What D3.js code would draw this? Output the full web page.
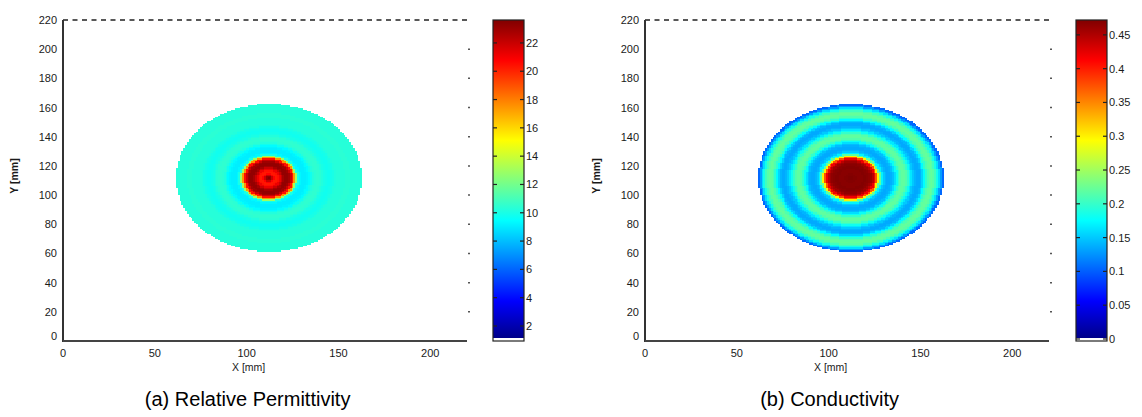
<!DOCTYPE html>
<html>
<head>
<meta charset="utf-8">
<script src="https://cdn.jsdelivr.net/npm/d3@7"></script>
<style>
  body { margin: 0; background: #fff; }
  svg { display: block; font-family: "Liberation Sans", Arial, sans-serif; }
  .tick-label { font-size: 11px; fill: #1a1a1a; }
</style>
</head>
<body>
<div id="container"></div>
<script>
var w = 1142;
var h = 417;

// axis ticks (mm)
var xTicks = [0, 50, 100, 150, 200];
var yTicks = [0, 20, 40, 60, 80, 100, 120, 140, 160, 180, 200, 220];

// disc geometry (mm)
var discCenter = [112, 112];
var discRadius = 50;

// radial profiles, one value per mm of radius (0..50)
var permProfile = [
  23.6, 23.2, 22.0, 20.8, 20.3, 20.5, 21.2, 22.0, 22.8, 23.2,
  23.2, 22.9, 22.0, 20.5, 17.5, 13.0, 10.0, 9.3, 9.1, 9.1,
  9.1, 9.2, 9.4, 9.8, 10.2, 10.4, 10.5, 10.5, 10.4, 10.2,
  10.0, 9.9, 9.8, 9.8, 9.9, 10.0, 10.2, 10.3, 10.3, 10.3,
  10.3, 10.3, 10.4, 10.4, 10.4, 10.3, 10.3, 10.3, 10.3, 10.3,
  10.3
];
var condProfile = [
  0.472, 0.472, 0.470, 0.470, 0.468, 0.468, 0.468, 0.470, 0.470, 0.468,
  0.465, 0.458, 0.445, 0.420, 0.375, 0.300, 0.220, 0.170, 0.150, 0.140,
  0.135, 0.135, 0.138, 0.145, 0.160, 0.180, 0.200, 0.214, 0.220, 0.220,
  0.214, 0.200, 0.182, 0.165, 0.150, 0.140, 0.135, 0.135, 0.140, 0.155,
  0.175, 0.197, 0.212, 0.220, 0.222, 0.217, 0.205, 0.185, 0.160, 0.130,
  0.105
];

// colorbar ticks and ranges
var permTicks = [2, 4, 6, 8, 10, 12, 14, 16, 18, 20, 22];
var permRange = [0.94, 23.62];
var condTicks = [0, 0.05, 0.1, 0.15, 0.2, 0.25, 0.3, 0.35, 0.4, 0.45];
var condRange = [-0.003, 0.472];

var captions = ["(a) Relative Permittivity", "(b) Conductivity"];

// jet colormap
var jetStops = [0, 0.125, 0.375, 0.625, 0.875, 1];
var jetColors = ["#000080", "#0000ff", "#00ffff", "#ffff00", "#ff0000", "#800000"];
var jet = d3.scaleLinear().domain(jetStops).range(jetColors).clamp(true);

var svg = d3.select("div#container")
    .append("svg")
    .attr("width", w)
    .attr("height", h)
    .attr("viewBox", "0 0 " + w + " " + h);

var defs = svg.append("defs");

var panels = [
  {left: 63, right: 467, cbLeft: 493, profile: permProfile, range: permRange, ticks: permTicks, fmt: d3.format("d"), caption: captions[0], id: "g0"},
  {left: 645, right: 1049, cbLeft: 1076, profile: condProfile, range: condRange, ticks: condTicks, fmt: d => String(d), caption: captions[1], id: "g1"}
];

var plotTop = 20, plotBottom = 341;

panels.forEach(function(p) {
  var x = d3.scaleLinear().domain([0, 220]).range([p.left, p.right]);
  var y = d3.scaleLinear().domain([0, 220]).range([plotBottom, plotTop]);
  var c = d3.scaleLinear().domain(p.range).range([0, 1]);

  // cells of the disc
  var cells = [];
  for (var i = discCenter[0] - discRadius; i <= discCenter[0] + discRadius; i++) {
    for (var j = discCenter[1] - discRadius; j <= discCenter[1] + discRadius; j++) {
      var r = Math.hypot(i - discCenter[0], j - discCenter[1]);
      if (r <= discRadius + 0.4) {
        cells.push({i: i, j: j, v: p.profile[Math.min(discRadius, Math.round(r))]});
      }
    }
  }
  var cw = x(1) - x(0), ch = y(0) - y(1);
  svg.append("g")
    .attr("shape-rendering", "crispEdges")
    .selectAll("rect")
    .data(cells)
    .enter()
    .append("rect")
    .attr("x", d => x(d.i - 0.5))
    .attr("y", d => y(d.j + 0.5))
    .attr("width", cw + 0.6)
    .attr("height", ch + 0.6)
    .attr("fill", d => jet(c(d.v)));

  // top dashed border
  svg.append("line")
    .attr("x1", x(0)).attr("x2", x(220))
    .attr("y1", plotTop).attr("y2", plotTop)
    .attr("stroke", "#222").attr("stroke-width", 1.5)
    .attr("stroke-dasharray", "5,4.5");

  // right tick dots
  svg.append("g").selectAll("line")
    .data(yTicks.filter(d => d > 0 && d < 220))
    .enter().append("line")
    .attr("x1", x(220) + 1).attr("x2", x(220) + 3)
    .attr("y1", d => y(d)).attr("y2", d => y(d))
    .attr("stroke", "#555").attr("stroke-width", 1.5);

  // left and bottom axes
  svg.append("line")
    .attr("x1", x(0)).attr("x2", x(0))
    .attr("y1", plotTop).attr("y2", plotBottom + 1)
    .attr("stroke", "#333").attr("stroke-width", 2);
  svg.append("line")
    .attr("x1", x(0)).attr("x2", x(220))
    .attr("y1", plotBottom).attr("y2", plotBottom)
    .attr("stroke", "#444").attr("stroke-width", 2);

  svg.append("g").selectAll("text")
    .data(yTicks)
    .enter().append("text")
    .attr("class", "tick-label")
    .attr("x", x(0) - 6)
    .attr("y", d => d === 0 ? y(d) - 1 : y(d) + 4)
    .attr("text-anchor", "end")
    .text(d => d);

  svg.append("g").selectAll("text")
    .data(xTicks)
    .enter().append("text")
    .attr("class", "tick-label")
    .attr("x", d => x(d))
    .attr("y", plotBottom + 16)
    .attr("text-anchor", "middle")
    .text(d => d);

  svg.append("text")
    .attr("class", "tick-label")
    .attr("x", x(100) + 2)
    .attr("y", plotBottom + 30)
    .attr("text-anchor", "middle")
    .style("font-size", "10.5px")
    .text("X [mm]");

  svg.append("text")
    .attr("class", "tick-label")
    .attr("transform", "translate(" + (p.left - 45) + "," + 176 + ") rotate(-90)")
    .attr("text-anchor", "middle")
    .style("font-size", "10.5px")
    .style("font-weight", "bold")
    .text("Y [mm]");

  // colorbar
  var cbW = 31;
  var cy = d3.scaleLinear().domain(p.range).range([plotBottom, plotTop]);
  var grad = defs.append("linearGradient")
    .attr("id", p.id)
    .attr("x1", 0).attr("x2", 0).attr("y1", 1).attr("y2", 0);
  grad.selectAll("stop")
    .data(jetStops)
    .enter().append("stop")
    .attr("offset", d => d)
    .attr("stop-color", (d, k) => jetColors[k]);
  svg.append("rect")
    .attr("x", p.cbLeft).attr("y", plotTop)
    .attr("width", cbW).attr("height", plotBottom - plotTop)
    .attr("fill", "url(#" + p.id + ")");
  svg.append("rect")
    .attr("x", p.cbLeft).attr("y", plotBottom - 3)
    .attr("width", cbW).attr("height", 3)
    .attr("fill", "#fff");
  svg.append("rect")
    .attr("x", p.cbLeft).attr("y", plotTop)
    .attr("width", cbW).attr("height", plotBottom - plotTop)
    .attr("fill", "none")
    .attr("stroke", "#222").attr("stroke-width", 1.2);

  var cbTicks = svg.append("g").selectAll("g")
    .data(p.ticks)
    .enter().append("g")
    .attr("transform", d => "translate(0," + cy(d) + ")");
  cbTicks.append("line")
    .attr("x1", p.cbLeft).attr("x2", p.cbLeft + 4)
    .attr("stroke", "#222").attr("stroke-width", 1.2);
  cbTicks.append("line")
    .attr("x1", p.cbLeft + cbW - 4).attr("x2", p.cbLeft + cbW)
    .attr("stroke", "#222").attr("stroke-width", 1.2);
  cbTicks.append("text")
    .attr("class", "tick-label")
    .attr("x", p.cbLeft + cbW + 2)
    .attr("y", 4)
    .text(d => p.fmt(d));

  // caption
  svg.append("text")
    .attr("x", x(100) + 1)
    .attr("y", 406)
    .attr("text-anchor", "middle")
    .style("font-size", "20px")
    .style("fill", "#000")
    .text(p.caption);
});
</script>
</body>
</html>
